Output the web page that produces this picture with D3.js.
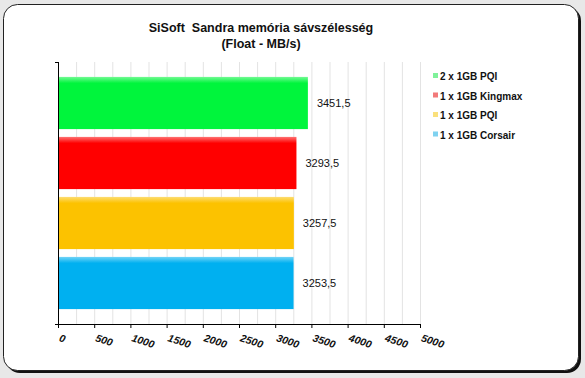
<!DOCTYPE html>
<html>
<head>
<meta charset="utf-8">
<script src="https://cdn.jsdelivr.net/npm/d3@7"></script>
<style>
  html, body { margin: 0; padding: 0; background: #e8e8e8; }
  svg { display: block; }
</style>
</head>
<body>
<div id="chart"></div>
<script>
// data
var labels = ["2 x 1GB PQI", "1 x 1GB Kingmax", "1 x 1GB PQI", "1 x 1GB Corsair"];
var values = [3451.5, 3293.5, 3257.5, 3253.5];
var xTicks = [0, 500, 1000, 1500, 2000, 2500, 3000, 3500, 4000, 4500, 5000];

var barColors = ["#00f53c", "#ff0000", "#fcc200", "#00b0f0"];
var keyColors = ["#7ff29a", "#f27a7a", "#fae07c", "#7fd2f0"];

var width = 585, height = 378;

var svg = d3.select("#chart").append("svg")
  .attr("width", width)
  .attr("height", height);

// frame
svg.append("rect").attr("width", width).attr("height", height).attr("fill", "#e8e8e8");
svg.append("rect")
  .attr("x", 6).attr("y", 7).attr("width", 575).attr("height", 366)
  .attr("rx", 14).attr("fill", "#111");
svg.append("rect")
  .attr("x", 3.5).attr("y", 4.5).attr("width", 575).attr("height", 366)
  .attr("rx", 14).attr("fill", "#fff").attr("stroke", "#222").attr("stroke-width", 1);

// title
var title = svg.append("text")
  .attr("text-anchor", "middle")
  .attr("font-family", "Liberation Sans, Arial, sans-serif")
  .attr("font-weight", "bold")
  .attr("font-size", 12.5)
  .attr("fill", "#111")
  .style("white-space", "pre");
title.append("tspan").attr("x", 261).attr("y", 32).text("SiSoft  Sandra memória sávszélesség");
title.append("tspan").attr("x", 261).attr("y", 48).text("(Float - MB/s)");

// scales
var x = d3.scaleLinear().domain([0, 5000]).range([58, 420]);
var y = d3.scaleBand().domain(labels).range([73, 313]).paddingInner(0.13).paddingOuter(0.065);
var plotTop = 62, plotBottom = 324;

// gridlines every 250
var gridVals = d3.range(250, 5001, 250);
svg.append("g").selectAll("line")
  .data(gridVals)
  .enter().append("line")
  .attr("x1", function(d) { return x(d) + 0.5; })
  .attr("x2", function(d) { return x(d) + 0.5; })
  .attr("y1", plotTop)
  .attr("y2", plotBottom)
  .attr("stroke", "#e3e3e3")
  .attr("stroke-width", 1);

// gradients for bar highlight
var defs = svg.append("defs");
barColors.forEach(function(c, i) {
  var g = defs.append("linearGradient")
    .attr("id", "grad" + i)
    .attr("x1", 0).attr("y1", 0).attr("x2", 0).attr("y2", 1);
  g.append("stop").attr("offset", "0%").attr("stop-color", d3.interpolateRgb(c, "#fff")(0.45));
  g.append("stop").attr("offset", "12%").attr("stop-color", c);
  g.append("stop").attr("offset", "100%").attr("stop-color", c);
});

// bars
svg.append("g").selectAll("rect")
  .data(values)
  .enter().append("rect")
  .attr("x", x(0))
  .attr("y", function(d, i) { return y(labels[i]); })
  .attr("width", function(d) { return x(d) - x(0); })
  .attr("height", y.bandwidth())
  .attr("fill", function(d, i) { return "url(#grad" + i + ")"; });

// value labels
svg.append("g").selectAll("text")
  .data(values)
  .enter().append("text")
  .attr("x", function(d) { return x(d) + 9; })
  .attr("y", function(d, i) { return y(labels[i]) + y.bandwidth() / 2 + 4; })
  .attr("font-family", "Liberation Sans, Arial, sans-serif")
  .attr("font-size", 11)
  .attr("fill", "#111")
  .text(function(d) { return String(d).replace(".", ","); });

// y axis line
svg.append("line")
  .attr("x1", x(0) + 0.5).attr("x2", x(0) + 0.5)
  .attr("y1", plotTop).attr("y2", plotBottom)
  .attr("stroke", "#000");
svg.append("line")
  .attr("x1", x(0) - 3).attr("x2", x(0) + 0.5)
  .attr("y1", plotTop + 0.5).attr("y2", plotTop + 0.5)
  .attr("stroke", "#000");

// x axis
var xAxis = d3.axisBottom(x).tickValues(xTicks).tickSize(4).tickSizeOuter(0).tickFormat(d3.format("d"));
var gx = svg.append("g")
  .attr("transform", "translate(0," + plotBottom + ")")
  .call(xAxis);
gx.select(".domain").attr("d", "M" + (x(0) - 3) + ",0.5H" + (x(5000) + 0.5));
gx.selectAll(".tick line").attr("stroke", "#000");
gx.selectAll(".tick text")
  .attr("font-family", "Liberation Sans, Arial, sans-serif")
  .attr("font-weight", "bold")
  .attr("font-style", "italic")
  .attr("font-size", 10.5)
  .attr("fill", "#111")
  .attr("text-anchor", "start")
  .attr("dy", null)
  .attr("y", 0)
  .attr("transform", "translate(0,17) rotate(18)");

// legend
var legend = svg.append("g").selectAll("g")
  .data(labels)
  .enter().append("g")
  .attr("transform", function(d, i) { return "translate(433," + (76 + i * 19.5) + ")"; });
legend.append("rect")
  .attr("x", 0).attr("y", -3).attr("width", 5).attr("height", 5)
  .attr("fill", function(d, i) { return keyColors[i]; });
legend.append("text")
  .attr("x", 7).attr("y", 4)
  .attr("font-family", "Liberation Sans, Arial, sans-serif")
  .attr("font-size", 10)
  .attr("font-weight", "bold")
  .attr("fill", "#111")
  .text(function(d) { return d; });
</script>
</body>
</html>
